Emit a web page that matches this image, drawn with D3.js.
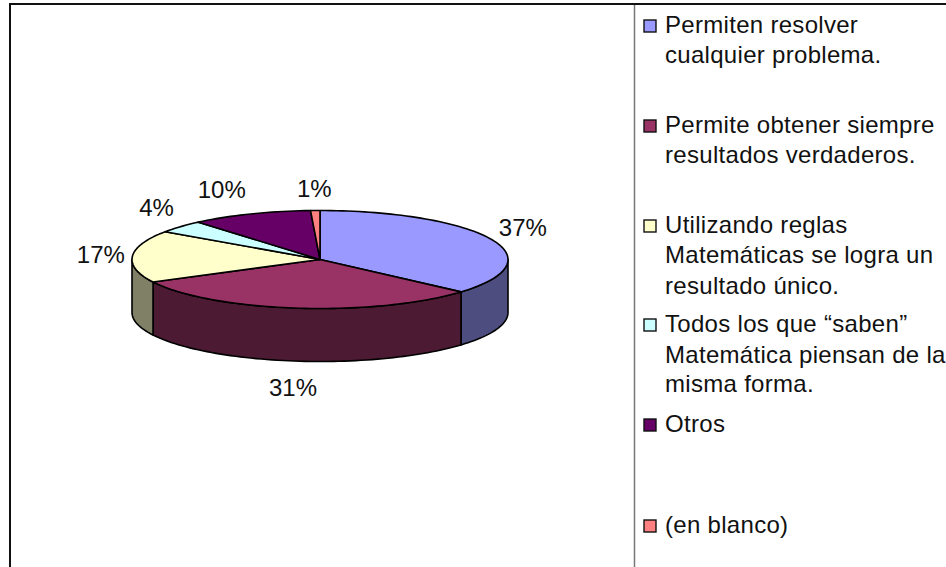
<!DOCTYPE html>
<html>
<head>
<meta charset="utf-8">
<script src="https://cdn.jsdelivr.net/npm/d3@7/dist/d3.min.js"></script>
<style>
html,body{margin:0;padding:0;background:#fff;overflow:hidden}
svg{display:block}
text{font-family:"Liberation Sans",Arial,sans-serif;font-size:24px;fill:#111}
text.legend{letter-spacing:.3px}
</style>
</head>
<body>
<svg id="chart" width="946" height="567"></svg>
<script>
const categories = ["Permiten resolver cualquier problema.","Permite obtener siempre resultados verdaderos.","Utilizando reglas Matemáticas se logra un resultado único.","Todos los que “saben” Matemática piensan de la misma forma.","Otros","(en blanco)"];
const values = [36.5, 30.9, 17.2, 4.2, 10.4, 0.8];
const topColors = ["#9999ff","#993366","#ffffcc","#ccffff","#660066","#ff8080"];
const sideColors = ["#4d4d80","#4d1a33","#808066","#668080","#330033","#804040"];
const legendLines = [["Permiten resolver","cualquier problema."],["Permite obtener siempre","resultados verdaderos."],["Utilizando reglas","Matemáticas se logra un","resultado único."],["Todos los que “saben”","Matemática piensan de la","misma forma."],["Otros"],["(en blanco)"]];
const legendBaselines = [[32,62],[132,162],[232,262,293],[331,362,391],[431],[532]];
const labelOffsets = [[31.5,-3],[-4,34.5],[-31.5,7],[-24,-11],[-29,-15.6],[-1,-13.5]];

const svg = d3.select("#chart");
const cx = 320, cy = 259.5, rx = 188, ry = 49, depth = 53;
const px = d3.scaleLinear().domain([-1,1]).range([cx-rx,cx+rx]);
const py = d3.scaleLinear().domain([-1,1]).range([cy-ry,cy+ry]);
const arcs = d3.pie().sort(null).value(d=>d)(values);

const pt = (a,dy=0)=>[px(Math.sin(a)),py(-Math.cos(a))+dy];
const samples = (a0,a1)=>{const n=Math.max(2,Math.ceil((a1-a0)/0.03));return d3.range(n+1).map(i=>a0+(a1-a0)*i/n);};
const line = d3.line();

// side walls (front half of the ellipse only)
arcs.forEach((d,i)=>{
  const a0=Math.max(d.startAngle,Math.PI/2), a1=Math.min(d.endAngle,3*Math.PI/2);
  if(a1<=a0) return;
  const upper=samples(a0,a1).map(a=>pt(a));
  const lower=samples(a0,a1).reverse().map(a=>pt(a,depth));
  svg.append("path").attr("d",line(upper.concat(lower))+"Z")
    .attr("fill",sideColors[i]).attr("stroke","#000").attr("stroke-width",1.6).attr("stroke-linejoin","round");
});
// top faces
arcs.forEach((d,i)=>{
  const rim=samples(d.startAngle,d.endAngle).map(a=>pt(a));
  svg.append("path").attr("d",line([[cx,cy]].concat(rim))+"Z")
    .attr("fill",topColors[i]).attr("stroke","#000").attr("stroke-width",1.6).attr("stroke-linejoin","round");
});
// labels
arcs.forEach((d,i)=>{
  const m=(d.startAngle+d.endAngle)/2;
  const e=pt(m,Math.cos(m)<0?depth:0);
  svg.append("text").attr("x",e[0]+labelOffsets[i][0]).attr("y",e[1]+labelOffsets[i][1])
    .attr("text-anchor","middle").text(d3.format(".0f")(d.value)+"%");
});
// frame
svg.append("line").attr("x1",10).attr("x2",946).attr("y1",4).attr("y2",4).attr("stroke","#111").attr("stroke-width",2);
svg.append("line").attr("x1",10).attr("x2",10).attr("y1",3).attr("y2",567).attr("stroke","#111").attr("stroke-width",2);
svg.append("line").attr("x1",634.5).attr("x2",634.5).attr("y1",5).attr("y2",567).attr("stroke","#777").attr("stroke-width",1.5);
// legend
categories.forEach((c,i)=>{
  const b=legendBaselines[i];
  svg.append("rect").attr("x",644).attr("y",b[0]-12).attr("width",12).attr("height",12)
    .attr("fill",topColors[i]).attr("stroke","#111").attr("stroke-width",1.4);
  legendLines[i].forEach((t,j)=>{
    svg.append("text").attr("class","legend").attr("x",665).attr("y",b[j]+1).text(t);
  });
});
</script>
</body>
</html>
